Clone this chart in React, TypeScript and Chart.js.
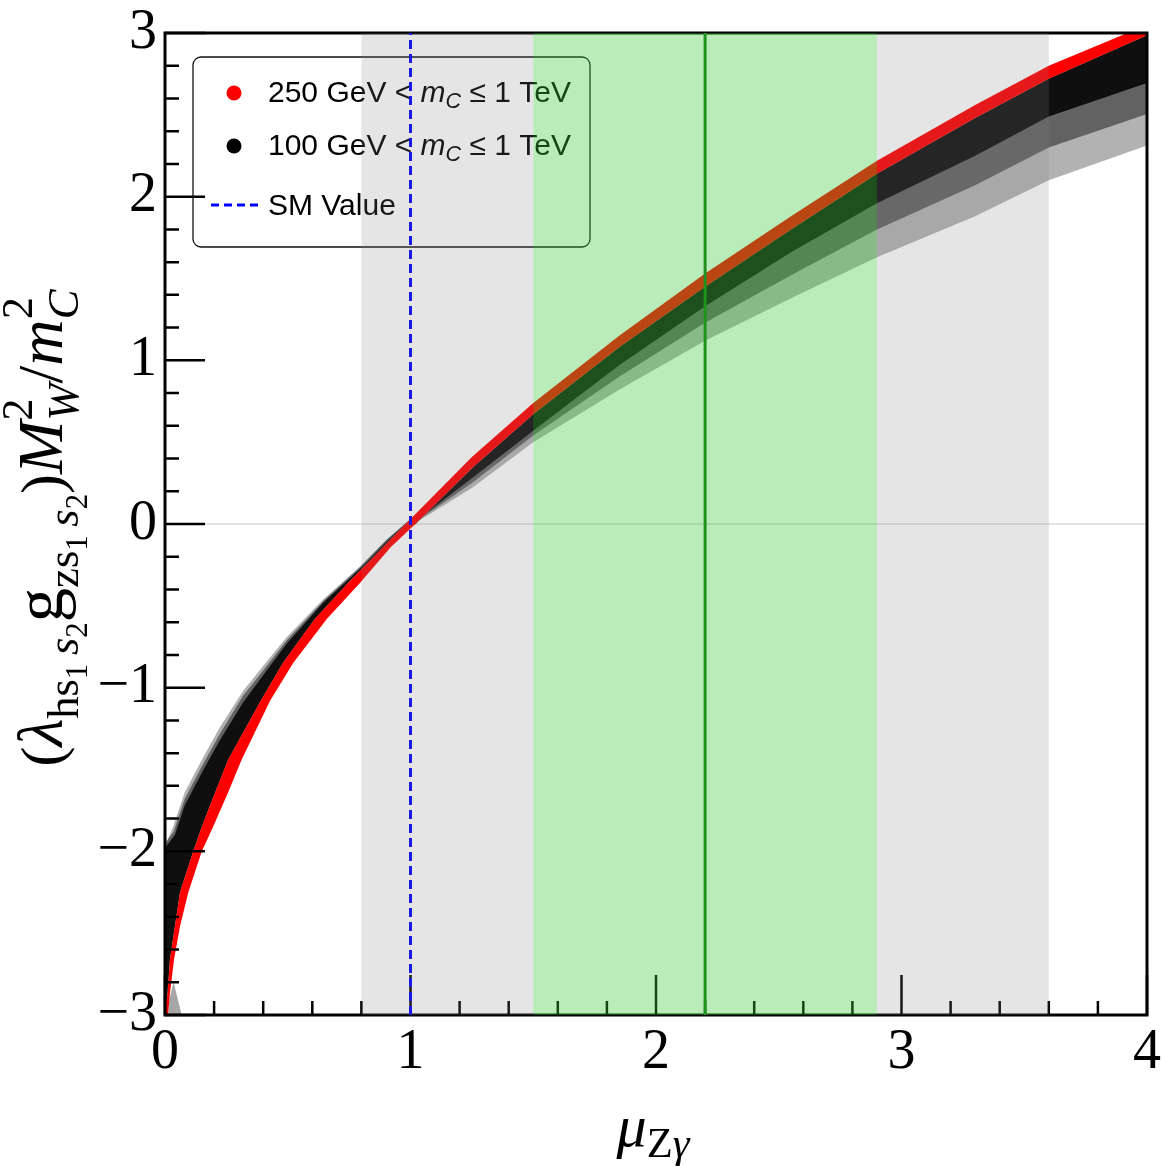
import { useEffect, useRef } from 'react';
import { Chart, registerables } from 'chart.js';

Chart.register(...registerables);

type Pt = [number, number];

const X_MIN = 0;
const X_MAX = 4;
const Y_MIN = -3;
const Y_MAX = 3;
const MINOR_STEP = 0.2;

// shaded regions on the x axis
const grayBands: Pt[] = [[0.8, 1.5], [2.9, 3.6]];
const greenBand: Pt = [1.5, 2.9];
const smValue = 1;
const measuredValue = 2.2;

// 250 GeV < mC <= 1 TeV points: upper-left and lower-right edge of the red band
const redUpper: Pt[] = [
  [0, -2.95], [0.01, -2.87], [0.02, -2.66], [0.04, -2.46], [0.061, -2.25], [0.115, -2.0],
  [0.15, -1.85], [0.204, -1.64], [0.257, -1.44], [0.39, -1.08], [0.48, -0.85], [0.61, -0.58],
  [0.745, -0.36], [0.87, -0.17], [1.0, 0.03], [1.25, 0.41], [1.5, 0.74], [1.85, 1.15],
  [2.2, 1.53], [2.55, 1.88], [2.9, 2.22], [3.3, 2.56], [3.6, 2.8], [3.92, 3.0], [4.05, 3.08],
];
const redLower: Pt[] = [
  [0.005, -3.3], [0.013, -2.99], [0.02, -2.87], [0.037, -2.66], [0.061, -2.46], [0.095, -2.25],
  [0.15, -2.0], [0.196, -1.85], [0.257, -1.64], [0.312, -1.44], [0.428, -1.08], [0.522, -0.85],
  [0.659, -0.58], [0.794, -0.36], [0.92, -0.14], [1.02, 0.0], [1.25, 0.34], [1.5, 0.67],
  [1.85, 1.08], [2.2, 1.45], [2.55, 1.8], [2.9, 2.14], [3.3, 2.48], [3.6, 2.72], [4.05, 3.02],
];

// 100 GeV < mC <= 1 TeV cloud, left of mu = 1 (above the red band)
const blackLeftOuter: Pt[] = [
  [-0.01, -1.95], [0.005, -1.95], [0.033, -1.85], [0.08, -1.64], [0.15, -1.44], [0.224, -1.24],
  [0.318, -1.02], [0.387, -0.89], [0.496, -0.69], [0.645, -0.46], [0.794, -0.26], [0.9, -0.1],
  [1.0, 0.03],
];
const blackLeftMid: Pt[] = [
  [-0.01, -1.97], [0.035, -1.88], [0.08, -1.68], [0.15, -1.48], [0.224, -1.28], [0.318, -1.05],
  [0.387, -0.92], [0.496, -0.71], [0.645, -0.47], [0.794, -0.265], [0.9, -0.1], [1.0, 0.03],
];
const blackLeftCore: Pt[] = [
  [-0.01, -2.0], [0.04, -1.9], [0.08, -1.72], [0.15, -1.52], [0.224, -1.32], [0.318, -1.09],
  [0.387, -0.95], [0.496, -0.73], [0.645, -0.48], [0.794, -0.275], [0.9, -0.11], [1.0, 0.03],
];
// right of mu = 1 (below the red band)
const blackRightOuter: Pt[] = [
  [0.98, -0.03], [1.25, 0.22], [1.5, 0.5], [1.85, 0.82], [2.2, 1.12], [2.55, 1.38],
  [2.9, 1.63], [3.3, 1.88], [3.6, 2.1], [4.05, 2.34],
];
const blackRightMid: Pt[] = [
  [0.985, -0.025], [1.25, 0.25], [1.5, 0.54], [1.85, 0.9], [2.2, 1.23], [2.55, 1.52],
  [2.9, 1.8], [3.3, 2.07], [3.6, 2.3], [4.05, 2.53],
];
const blackRightCore: Pt[] = [
  [0.99, -0.02], [1.25, 0.28], [1.5, 0.57], [1.85, 0.97], [2.2, 1.33], [2.55, 1.66],
  [2.9, 1.96], [3.3, 2.25], [3.6, 2.49], [4.05, 2.72],
];
const blackTail: Pt[] = [[0.015, -2.92], [0.035, -2.8], [0.06, -2.95], [0.075, -3.05], [0.013, -3.05]];

const toXY = (pts: Pt[]) => pts.map(([x, y]) => ({ x, y }));
// closed outline: first edge forwards, second edge backwards
const outline = (a: Pt[], b: Pt[]) => toXY([...a, ...b.slice().reverse()]);
const strip = ([a, b]: Pt) => toXY([[a, Y_MIN], [b, Y_MIN], [b, Y_MAX], [a, Y_MAX]]);

const leftRed = redUpper.filter((p) => p[0] <= 1);
const rightRed = redLower.filter((p) => p[0] >= 1);

const SERIF = '"Liberation Serif", "Times New Roman", serif';
const SANS = '"Liberation Sans", Arial, sans-serif';

type Run = { t: string; size: number; fam: string; it?: boolean; dy?: number; stay?: boolean };

const fontOf = (r: Run, k: number) => `${r.it ? 'italic ' : ''}${r.size * k}px ${r.fam}`;

function runsWidth(ctx: CanvasRenderingContext2D, runs: Run[], k: number) {
  let w = 0;
  let pending = 0;
  for (const r of runs) {
    ctx.font = fontOf(r, k);
    const rw = ctx.measureText(r.t).width;
    if (r.stay) pending = Math.max(pending, rw);
    else {
      w += Math.max(rw, pending);
      pending = 0;
    }
  }
  return w + pending;
}

function drawRuns(ctx: CanvasRenderingContext2D, runs: Run[], x: number, y: number, k: number) {
  let cx = x;
  let pending = 0;
  for (const r of runs) {
    ctx.font = fontOf(r, k);
    ctx.fillText(r.t, cx, y + (r.dy ?? 0) * k);
    const rw = ctx.measureText(r.t).width;
    if (r.stay) pending = Math.max(pending, rw);
    else {
      cx += Math.max(rw, pending);
      pending = 0;
    }
  }
}

const LS = 30;
const legendRows: { runs: Run[]; marker: 'red' | 'black' | 'dash'; cy: number; base: number }[] = [
  {
    marker: 'red', cy: 93, base: 102,
    runs: [
      { t: '250 GeV < ', size: LS, fam: SANS },
      { t: 'm', size: LS, fam: SANS, it: true },
      { t: 'C', size: LS * 0.72, fam: SANS, it: true, dy: 6 },
      { t: ' ≤ 1 TeV', size: LS, fam: SANS },
    ],
  },
  {
    marker: 'black', cy: 146, base: 155,
    runs: [
      { t: '100 GeV < ', size: LS, fam: SANS },
      { t: 'm', size: LS, fam: SANS, it: true },
      { t: 'C', size: LS * 0.72, fam: SANS, it: true, dy: 6 },
      { t: ' ≤ 1 TeV', size: LS, fam: SANS },
    ],
  },
  { marker: 'dash', cy: 205, base: 215, runs: [{ t: 'SM Value', size: LS, fam: SANS }] },
];

const yTitle: Run[] = [
  { t: '(', size: 52, fam: SERIF },
  { t: 'λ', size: 56, fam: SERIF, it: true },
  { t: 'hs', size: 39, fam: SERIF, dy: 14 },
  { t: '1', size: 27, fam: SERIF, dy: 22 },
  { t: ' ', size: 30, fam: SERIF },
  { t: 's', size: 39, fam: SERIF, it: true, dy: 14 },
  { t: '2', size: 27, fam: SERIF, dy: 22 },
  { t: 'g', size: 60, fam: SERIF },
  { t: 'zs', size: 39, fam: SERIF, dy: 14 },
  { t: '1', size: 27, fam: SERIF, dy: 22 },
  { t: ' ', size: 30, fam: SERIF },
  { t: 's', size: 39, fam: SERIF, it: true, dy: 14 },
  { t: '2', size: 27, fam: SERIF, dy: 22 },
  { t: ')', size: 52, fam: SERIF },
  { t: 'M', size: 56, fam: SERIF, it: true },
  { t: '2', size: 39, fam: SERIF, dy: -26, stay: true },
  { t: 'W', size: 39, fam: SERIF, it: true, dy: 14 },
  { t: '/', size: 56, fam: SERIF },
  { t: 'm', size: 56, fam: SERIF, it: true },
  { t: '2', size: 39, fam: SERIF, dy: -26, stay: true },
  { t: 'C', size: 39, fam: SERIF, it: true, dy: 14 },
];

const xTitle: Run[] = [
  { t: 'μ', size: 48, fam: SERIF, it: true },
  { t: 'Z', size: 34, fam: SERIF, dy: 9 },
  { t: 'γ', size: 34, fam: SERIF, it: true, dy: 9 },
];

// frame, inward ticks and legend: drawn over the data, under the shaded bands
const framePlugin = {
  id: 'frameAndLegend',
  afterDatasetDraw(chart: any, args: any) {
    if (chart.data.datasets[args.index].label !== 'red') return;
    const { ctx, chartArea: a, scales } = chart;
    const xs = scales.x;
    const ys = scales.y;
    ctx.save();
    ctx.strokeStyle = '#000';
    ctx.lineWidth = 2.5;
    ctx.beginPath();
    const nx = Math.round((X_MAX - X_MIN) / MINOR_STEP);
    for (let i = 0; i <= nx; i++) {
      const px = xs.getPixelForValue(X_MIN + i * MINOR_STEP);
      const len = i % 5 === 0 ? 40 : 14;
      ctx.moveTo(px, a.bottom);
      ctx.lineTo(px, a.bottom - len);
    }
    const ny = Math.round((Y_MAX - Y_MIN) / MINOR_STEP);
    for (let i = 0; i <= ny; i++) {
      const py = ys.getPixelForValue(Y_MIN + i * MINOR_STEP);
      const len = i % 5 === 0 ? 40 : 14;
      ctx.moveTo(a.left, py);
      ctx.lineTo(a.left + len, py);
    }
    ctx.stroke();
    ctx.lineWidth = 3;
    ctx.strokeRect(a.left, a.top, a.right - a.left, a.bottom - a.top);

    // legend box
    ctx.lineWidth = 1.3;
    ctx.strokeStyle = '#111';
    ctx.beginPath();
    ctx.roundRect(193, 57, 397, 190, 8);
    ctx.stroke();
    for (const row of legendRows) {
      if (row.marker === 'dash') {
        ctx.strokeStyle = 'rgb(0,0,255)';
        ctx.lineWidth = 3;
        ctx.setLineDash([8, 5]);
        ctx.beginPath();
        ctx.moveTo(211, row.cy);
        ctx.lineTo(258, row.cy);
        ctx.stroke();
        ctx.setLineDash([]);
      } else {
        ctx.fillStyle = row.marker === 'red' ? 'rgb(255,0,0)' : '#000';
        ctx.beginPath();
        ctx.arc(234, row.cy, 7.5, 0, Math.PI * 2);
        ctx.fill();
      }
      ctx.fillStyle = '#000';
      ctx.textBaseline = 'alphabetic';
      ctx.textAlign = 'left';
      drawRuns(ctx, row.runs, 268, row.base, 1);
    }
    ctx.restore();
  },
  afterDraw(chart: any) {
    const { ctx } = chart;
    ctx.save();
    ctx.fillStyle = '#000';
    ctx.textAlign = 'left';
    ctx.textBaseline = 'alphabetic';
    // y title, rotated
    const ky = 477 / runsWidth(ctx, yTitle, 1);
    const wy = runsWidth(ctx, yTitle, ky);
    ctx.translate(62, 528);
    ctx.rotate(-Math.PI / 2);
    drawRuns(ctx, yTitle, -wy / 2, 0, ky);
    ctx.restore();
    ctx.save();
    ctx.fillStyle = '#000';
    ctx.textAlign = 'left';
    ctx.textBaseline = 'alphabetic';
    const kx = 73 / runsWidth(ctx, xTitle, 1);
    const wx = runsWidth(ctx, xTitle, kx);
    drawRuns(ctx, xTitle, 653 - wx / 2, 1146, kx);
    ctx.restore();
  },
};

const area = (label: string, data: { x: number; y: number }[], color: string, order: number) => ({
  label,
  data,
  showLine: true,
  fill: 'shape',
  backgroundColor: color,
  borderColor: 'rgba(0,0,0,0)',
  borderWidth: 0,
  pointRadius: 0,
  pointHoverRadius: 0,
  tension: 0,
  order,
});

const vline = (label: string, x: number, color: string, dash: number[], order: number) => ({
  label,
  data: toXY([[x, Y_MIN], [x, Y_MAX]]),
  showLine: true,
  fill: false,
  borderColor: color,
  borderWidth: 3,
  borderDash: dash,
  pointRadius: 0,
  pointHoverRadius: 0,
  order,
});

export default function App() {
  const canvasRef = useRef<HTMLCanvasElement>(null);
  const chartRef = useRef<Chart | null>(null);

  useEffect(() => {
    if (!canvasRef.current) return;
    if (chartRef.current) chartRef.current.destroy();

    const datasets: any[] = [
      ...grayBands.map((b, i) => area('gray' + i, strip(b), 'rgba(125,125,125,0.2)', 0)),
      area('green', strip(greenBand), 'rgba(57,200,54,0.35)', 0),
      vline('measured', measuredValue, 'rgb(20,115,20)', [], 1),
      vline('SM Value', smValue, 'rgb(0,0,255)', [9, 5], 1),
      area('red', outline(redUpper, redLower), 'rgb(255,0,0)', 2),
      area('coreL', outline(blackLeftCore, leftRed), 'rgba(0,0,0,0.85)', 3),
      area('coreR', outline(rightRed, blackRightCore), 'rgba(0,0,0,0.85)', 3),
      area('midL', outline(blackLeftMid, leftRed), 'rgba(0,0,0,0.45)', 4),
      area('midR', outline(rightRed, blackRightMid), 'rgba(0,0,0,0.45)', 4),
      area('outerL', outline(blackLeftOuter, leftRed), 'rgba(0,0,0,0.3)', 5),
      area('outerR', outline(rightRed, blackRightOuter), 'rgba(0,0,0,0.3)', 5),
      area('tail', toXY(blackTail), 'rgba(0,0,0,0.35)', 5),
      {
        label: 'zero',
        data: toXY([[X_MIN, 0], [X_MAX, 0]]),
        showLine: true,
        fill: false,
        borderColor: '#c8c8c8',
        borderWidth: 1,
        pointRadius: 0,
        order: 6,
      },
    ];

    chartRef.current = new Chart(canvasRef.current, {
      type: 'scatter',
      data: { datasets },
      options: {
        animation: false,
        responsive: true,
        maintainAspectRatio: false,
        events: [],
        layout: { autoPadding: false, padding: { top: 33, right: 20, bottom: 0, left: 0 } },
        plugins: { legend: { display: false }, tooltip: { enabled: false } },
        scales: {
          x: {
            type: 'linear',
            min: X_MIN,
            max: X_MAX,
            afterFit: (s: any) => {
              s.height = 152;
              s.paddingLeft = 0;
              s.paddingRight = 0;
            },
            grid: { display: false, drawTicks: false },
            border: { display: false },
            ticks: {
              stepSize: 1,
              autoSkip: false,
              maxRotation: 0,
              padding: 5,
              color: '#000',
              font: { family: SERIF, size: 56 },
            },
          },
          y: {
            type: 'linear',
            min: Y_MIN,
            max: Y_MAX,
            afterFit: (s: any) => {
              s.width = 165;
              s.paddingTop = 0;
              s.paddingBottom = 0;
            },
            grid: { display: false, drawTicks: false },
            border: { display: false },
            ticks: {
              stepSize: 1,
              autoSkip: false,
              padding: 8,
              color: '#000',
              font: { family: SERIF, size: 56 },
              callback: (v: any) => (Number(v) < 0 ? '−' + Math.abs(Number(v)) : String(v)),
            },
          },
        },
      } as any,
      plugins: [framePlugin],
    });

    return () => {
      if (chartRef.current) {
        chartRef.current.destroy();
        chartRef.current = null;
      }
    };
  }, []);

  return (
    <div style={{ position: 'absolute', left: 0, top: 0, width: 1167, height: 1167, background: '#fff' }}>
      <canvas ref={canvasRef}></canvas>
    </div>
  );
}
